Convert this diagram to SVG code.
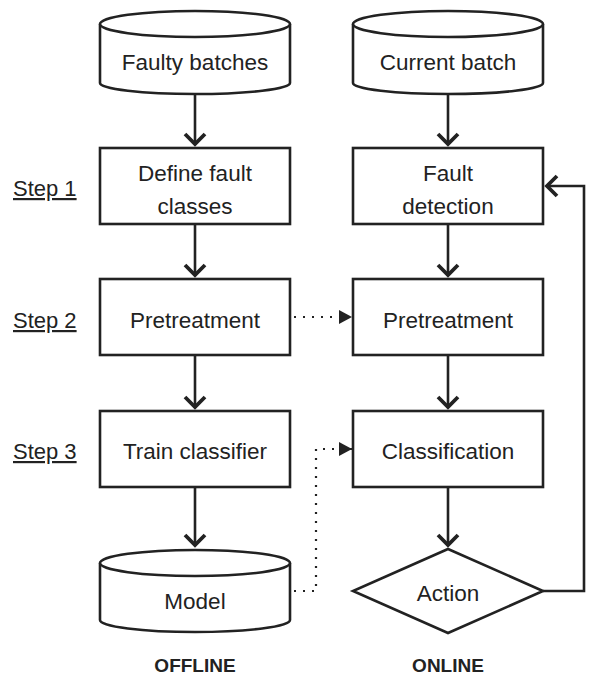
<svg xmlns="http://www.w3.org/2000/svg" width="590" height="678" viewBox="0 0 590 678">
<defs>
<style>
.shape{fill:#fff;stroke:#222;stroke-width:2.6}
.t{font-family:"Liberation Sans",Arial,sans-serif;font-size:22.5px;fill:#222;text-anchor:middle;dominant-baseline:central}
.step{font-family:"Liberation Sans",Arial,sans-serif;font-size:22px;fill:#222;text-decoration:underline}
.hd{font-family:"Liberation Sans",Arial,sans-serif;font-size:19px;font-weight:bold;fill:#222;text-anchor:middle}
.solid{fill:none;stroke:#222;stroke-width:2.6;marker-end:url(#chev)}
.dot{fill:none;stroke:#222;stroke-width:2.2;stroke-dasharray:2 7;marker-end:url(#tri)}
</style>
<marker id="chev" markerUnits="userSpaceOnUse" viewBox="-14 -14 20 28" refX="0" refY="0" markerWidth="20" markerHeight="28" orient="auto">
<path d="M-10,-10 L0,0 L-10,10" fill="none" stroke="#222" stroke-width="3.8" stroke-linejoin="miter"/>
</marker>
<marker id="tri" markerUnits="userSpaceOnUse" viewBox="-14 -8 16 16" refX="0" refY="0" markerWidth="16" markerHeight="16" orient="auto">
<path d="M-13,-7 L0,0 L-13,7 Z" fill="#222"/>
</marker>
</defs>

<g id="connectors">
<line class="solid" x1="195" y1="95" x2="195" y2="144"/>
<line class="solid" x1="195" y1="224" x2="195" y2="275"/>
<line class="solid" x1="195" y1="355" x2="195" y2="407"/>
<line class="solid" x1="195" y1="487" x2="195" y2="545"/>
<line class="solid" x1="448" y1="95" x2="448" y2="144"/>
<line class="solid" x1="448" y1="224" x2="448" y2="275"/>
<line class="solid" x1="448" y1="355" x2="448" y2="407"/>
<line class="solid" x1="448" y1="487" x2="448" y2="545"/>
<polyline class="solid" points="543,591 584,591 584,186 547,186"/>
<line class="dot" x1="294" y1="317" x2="352" y2="317"/>
<polyline class="dot" points="294,591 316,591 316,449 352,449"/>
</g>

<g id="faulty-batches">
<path class="shape" d="M100,24 V83 A95,11 0 0 0 290,83 V24"/>
<ellipse class="shape" cx="195" cy="24" rx="95" ry="13"/>
<text class="t" x="195" y="62">Faulty batches</text>
</g>

<g id="current-batch">
<path class="shape" d="M353,24 V83 A95,11 0 0 0 543,83 V24"/>
<ellipse class="shape" cx="448" cy="24" rx="95" ry="13"/>
<text class="t" x="448" y="62">Current batch</text>
</g>

<g id="define-fault-classes">
<rect class="shape" x="100" y="148" width="190" height="76"/>
<text class="t" x="195" y="173">Define fault</text>
<text class="t" x="195" y="206">classes</text>
</g>

<g id="fault-detection">
<rect class="shape" x="353" y="148" width="190" height="76"/>
<text class="t" x="448" y="173">Fault</text>
<text class="t" x="448" y="206">detection</text>
</g>

<g id="pretreatment-offline">
<rect class="shape" x="100" y="279" width="190" height="76"/>
<text class="t" x="195" y="320">Pretreatment</text>
</g>

<g id="pretreatment-online">
<rect class="shape" x="353" y="279" width="190" height="76"/>
<text class="t" x="448" y="320">Pretreatment</text>
</g>

<g id="train-classifier">
<rect class="shape" x="100" y="411" width="190" height="76"/>
<text class="t" x="195" y="451">Train classifier</text>
</g>

<g id="classification">
<rect class="shape" x="353" y="411" width="190" height="76"/>
<text class="t" x="448" y="451">Classification</text>
</g>

<g id="model">
<path class="shape" d="M100,563 V620 A95,12 0 0 0 290,620 V563"/>
<ellipse class="shape" cx="195" cy="563" rx="95" ry="13"/>
<text class="t" x="195" y="601">Model</text>
</g>

<g id="action">
<polygon class="shape" points="448,549 543,591 448,633 353,591"/>
<text class="t" x="448" y="593">Action</text>
</g>

<g id="labels">
<text class="step" x="13" y="196">Step 1</text>
<text class="step" x="13" y="328">Step 2</text>
<text class="step" x="13" y="459">Step 3</text>
<text class="hd" x="195" y="672">OFFLINE</text>
<text class="hd" x="448" y="672">ONLINE</text>
</g>
</svg>
